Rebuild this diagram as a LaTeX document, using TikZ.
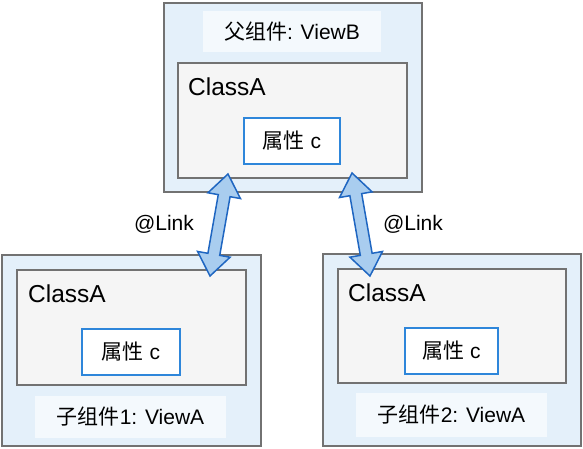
\documentclass[tikz,border=0pt]{standalone}
\usepackage{fontspec}
\setmainfont{Liberation Sans}
\newfontfamily\cjk{Noto Sans CJK SC}
\usetikzlibrary{positioning,calc}

\definecolor{viewfill}{HTML}{E4F0FA}
\definecolor{titlefill}{HTML}{F4F9FD}
\definecolor{classfill}{HTML}{F5F5F5}
\definecolor{boxgray}{HTML}{727272}
\definecolor{attrblue}{HTML}{2E86DA}
\definecolor{linkfill}{HTML}{A9CDEF}
\definecolor{linkdraw}{HTML}{1F66C1}

\tikzset{
  view/.style={draw=boxgray, line width=2pt, fill=viewfill, rectangle},
  viewtitle/.style={fill=titlefill, rectangle, inner sep=0pt},
  classbox/.style={draw=boxgray, line width=2pt, fill=classfill, rectangle},
  attrbox/.style={draw=attrblue, line width=2pt, fill=white, rectangle, inner sep=0pt},
  classname/.style={anchor=west, inner sep=0pt, font=\fontsize{24.5pt}{28pt}\selectfont},
  linkarrow/.style={draw=linkdraw, line width=1.5pt, fill=linkfill, line join=miter},
}

% two-headed block arrow between two named coordinates
\newcommand{\linkarrow}[2]{%
  \draw[linkarrow] (#1)
    -- ($(#1)!22pt!(#2)!16.5pt!90:(#2)$)
    -- ($(#1)!22pt!(#2)!6pt!90:(#2)$)
    -- ($(#2)!22pt!(#1)!6pt!-90:(#1)$)
    -- ($(#2)!22pt!(#1)!16.5pt!-90:(#1)$)
    -- (#2)
    -- ($(#2)!22pt!(#1)!16.5pt!90:(#1)$)
    -- ($(#2)!22pt!(#1)!6pt!90:(#1)$)
    -- ($(#1)!22pt!(#2)!6pt!-90:(#2)$)
    -- ($(#1)!22pt!(#2)!16.5pt!-90:(#2)$)
    -- cycle;}

\begin{document}
\begin{tikzpicture}[x=1pt, y=-1pt, font=\fontsize{21pt}{25pt}\selectfont]
        \useasboundingbox (0,0) rectangle (583,449);

        % Parent component
        \node[view, minimum width=258pt, minimum height=189pt] (viewb) at (293,97.5) {};
        \node[viewtitle, minimum width=178pt, minimum height=41pt] (viewbtitle) at (292,31.5) {{\cjk 父组件}: ViewB};
        \node[classbox, minimum width=229pt, minimum height=115pt] (viewbclass) at (292.5,120.5) {};
        \node[classname] (viewbname) at (188,87) {ClassA};
        \node[attrbox, minimum width=96pt, minimum height=46pt] (viewbattr) at (292,141) {{\cjk 属性} c};

        % Child component 1
        \node[view, minimum width=259pt, minimum height=191pt] (viewa1) at (131.5,350.5) {};
        \node[classbox, minimum width=229pt, minimum height=115pt] (viewa1class) at (131.5,327.5) {};
        \node[classname] (viewa1name) at (28,294) {ClassA};
        \node[attrbox, minimum width=98pt, minimum height=46pt] (viewa1attr) at (131,352) {{\cjk 属性} c};
        \node[viewtitle, minimum width=191pt, minimum height=42pt] (viewa1title) at (130.5,417) {{\cjk 子组件}1: ViewA};

        % Child component 2
        \node[view, minimum width=258pt, minimum height=192pt] (viewa2) at (452,350) {};
        \node[classbox, minimum width=228pt, minimum height=114pt] (viewa2class) at (452,326) {};
        \node[classname] (viewa2name) at (348,293) {ClassA};
        \node[attrbox, minimum width=93pt, minimum height=46pt] (viewa2attr) at (451.5,351) {{\cjk 属性} c};
        \node[viewtitle, minimum width=191pt, minimum height=44pt] (viewa2title) at (451.5,415) {{\cjk 子组件}2: ViewA};

        % Links
        \coordinate (link1top) at (228,174);
        \coordinate (link1bot) at (210,276);
        \coordinate (link2top) at (352,173);
        \coordinate (link2bot) at (370,276);
        \linkarrow{link1top}{link1bot}
        \linkarrow{link2top}{link2bot}

        \node (link1label) at (164,224) {@Link};
        \node (link2label) at (413,224) {@Link};
    \end{tikzpicture}
\end{document}
